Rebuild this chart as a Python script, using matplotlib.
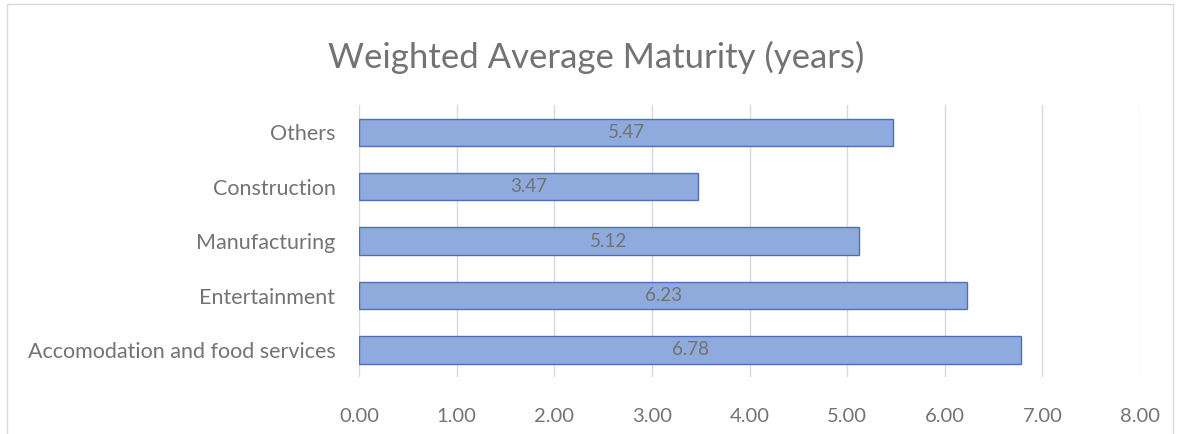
import matplotlib.pyplot as plt
from matplotlib.patches import Rectangle

# datos
categorias = ['Accomodation and food services', 'Entertainment', 'Manufacturing',
              'Construction', 'Others']
valores = [6.78, 6.23, 5.12, 3.47, 5.47]
ticks_x = [0, 1, 2, 3, 4, 5, 6, 7, 8]

plt.rcParams['font.family'] = ['Lato', 'DejaVu Sans']
gris = '#737373'

fig = plt.figure(figsize=(11.78, 4.34), dpi=100)
ax = fig.add_axes([0.3048, 0.131, 0.663, 0.627])

barras = ax.barh(range(len(categorias)), valores, height=0.5,
                 color='#8FAADC', edgecolor='#4F6FB8', linewidth=1.0, zorder=3)
for b, v in zip(barras, valores):
    ax.text(v / 2, b.get_y() + b.get_height() / 2, f'{v:.2f}',
            ha='center', va='center', color='#727272', fontsize=13.5, zorder=4)

ax.set_xlim(0, 8)
ax.set_ylim(-0.5, len(categorias) - 0.5)
ax.set_xticks(ticks_x)
ax.set_xticklabels([f'{t:.2f}' for t in ticks_x])
ax.set_yticks(range(len(categorias)))
ax.set_yticklabels(categorias)
ax.tick_params(axis='x', length=0, labelsize=14.5, colors=gris, pad=22)
ax.tick_params(axis='y', length=0, labelsize=15.5, colors=gris, pad=17)
ax.grid(axis='x', color='#d9d9d9', linewidth=1, zorder=0)
for s in ax.spines.values():
    s.set_visible(False)

fig.text(0.506, 0.868, 'Weighted Average Maturity (years)', ha='center',
         va='center', fontsize=25, color='#737373')

# borde del area del grafico
fig.patches.append(Rectangle((0.006, -0.01), 0.99, 1.0, transform=fig.transFigure,
                             fill=False, edgecolor='#d9d9d9', linewidth=1))

fig.savefig('out.png', dpi=100)
